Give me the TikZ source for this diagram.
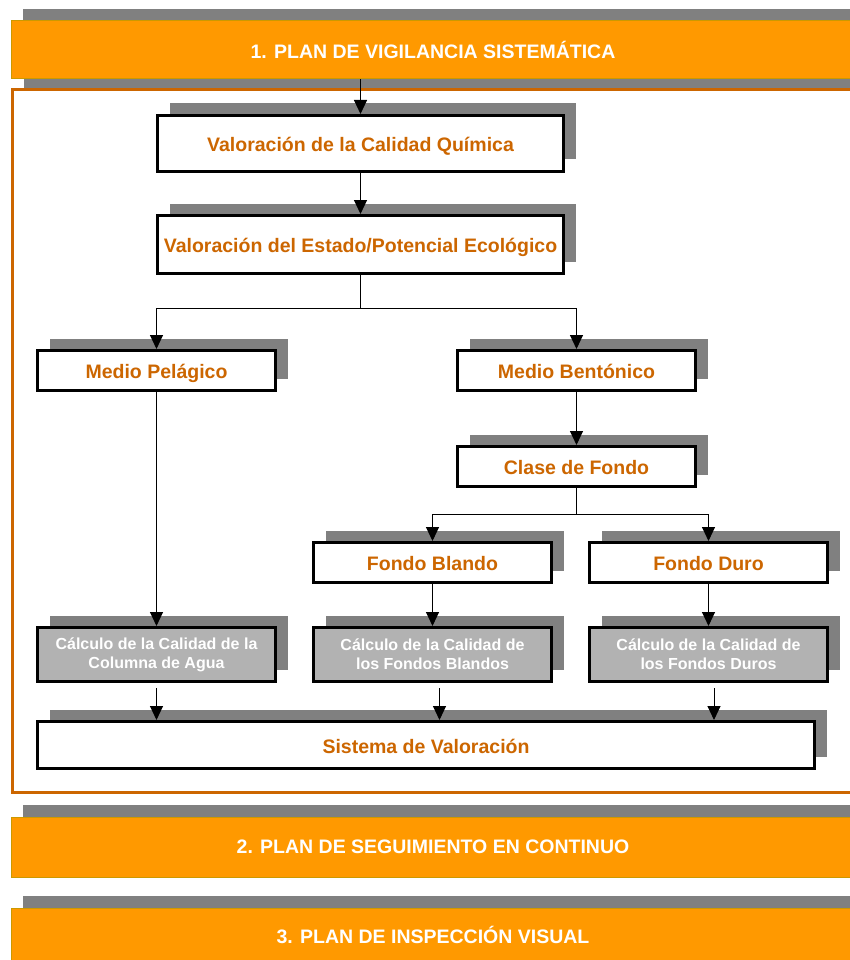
\documentclass[tikz,border=0pt]{standalone}
\usepackage{fontspec}
\setmainfont{Liberation Sans}
\usetikzlibrary{arrows.meta,shadows,calc}
\definecolor{bannerorange}{HTML}{FF9900}
\definecolor{bannerline}{HTML}{CC9900}
\definecolor{frameorange}{HTML}{CC6600}
\definecolor{shadowgray}{HTML}{808080}
\definecolor{calcgray}{HTML}{B2B2B2}
\begin{document}
\begin{tikzpicture}[x=1pt,y=-1pt,
  shd/.style={general shadow={fill=shadowgray,shadow xshift=12pt,shadow yshift=12pt}},
  banner/.style={shd,fill=bannerorange,draw=bannerline,line width=1pt,minimum width=844pt,minimum height=58pt,inner sep=0pt,text=white,font=\fontsize{19.5}{23}\selectfont\bfseries},
  box/.style={shd,fill=white,draw=black,line width=3pt,minimum width=238pt,minimum height=40pt,inner sep=0pt,text height=16pt,text depth=0pt,text=frameorange,font=\fontsize{19.5}{23}\selectfont\bfseries},
  calcbox/.style={box,fill=calcgray,text=white,align=center,minimum height=54pt,text height=,text depth=,font=\fontsize{16}{19}\selectfont\bfseries},
  arr/.style={line width=1pt,-{Triangle[length=14pt,width=13pt]}},
  link/.style={line width=1pt}]
\useasboundingbox (0,0) rectangle (849,960);

% frame of plan 1
\node[shd,draw=frameorange,line width=3pt,fill=white,minimum width=846pt,minimum height=703pt] (frame) at (435,441) {};

\node[banner] (plan1) at (433,50) {1. PLAN DE VIGILANCIA SISTEMÁTICA};
\node[banner,minimum height=60pt] (plan2) at (433,847) {2. PLAN DE SEGUIMIENTO EN CONTINUO};
\node[banner,minimum height=54pt] (plan3) at (433,935) {3. PLAN DE INSPECCIÓN VISUAL};

\node[box,minimum width=406pt,minimum height=56pt] (chem) at (360.5,143.5) {Valoración de la Calidad Química};
\node[box,minimum width=406pt,minimum height=58pt] (eco) at (360.5,244.5) {Valoración del Estado/Potencial Ecológico};

\node[box] (pel) at (156.5,370.5) {Medio Pelágico};
\node[box] (ben) at (576.5,370.5) {Medio Bentónico};
\node[box] (clase) at (576.5,466.5) {Clase de Fondo};
\node[box] (blando) at (432.5,562.5) {Fondo Blando};
\node[box] (duro) at (708.5,562.5) {Fondo Duro};

\node[calcbox] (calcA) at (156.5,654.5) {Cálculo de la Calidad de la\\Columna de Agua};
\node[calcbox] (calcB) at (432.5,654.5) {Cálculo de la Calidad de\\los Fondos Blandos};
\node[calcbox] (calcC) at (708.5,654.5) {Cálculo de la Calidad de\\los Fondos Duros};

\node[box,minimum width=777pt,minimum height=47pt] (sist) at (426,745) {Sistema de Valoración};

% connectors
\coordinate (fork1) at ($(eco.south)+(0,33)$);
\coordinate (fork2) at ($(clase.south)+(0,26)$);

\draw[arr] (chem.north |- plan1.south) -- (chem.north);
\draw[arr] (chem) -- (eco);
\draw[link] (eco.south) -- (fork1);
\draw[arr] (fork1) -| (pel.north);
\draw[arr] (fork1) -| (ben.north);
\draw[arr] (ben) -- (clase);
\draw[link] (clase.south) -- (fork2);
\draw[arr] (fork2) -| (blando.north);
\draw[arr] (fork2) -| (duro.north);
\draw[arr] (pel) -- (calcA);
\draw[arr] (blando) -- (calcB);
\draw[arr] (duro) -- (calcC);
\foreach \c/\dx in {calcA/0,calcB/7,calcC/5.5}
  \draw[arr] ($(\c.south)+(\dx,5)$) -- ($(\c.south |- sist.north)+(\dx,0)$);
\end{tikzpicture}
\end{document}
